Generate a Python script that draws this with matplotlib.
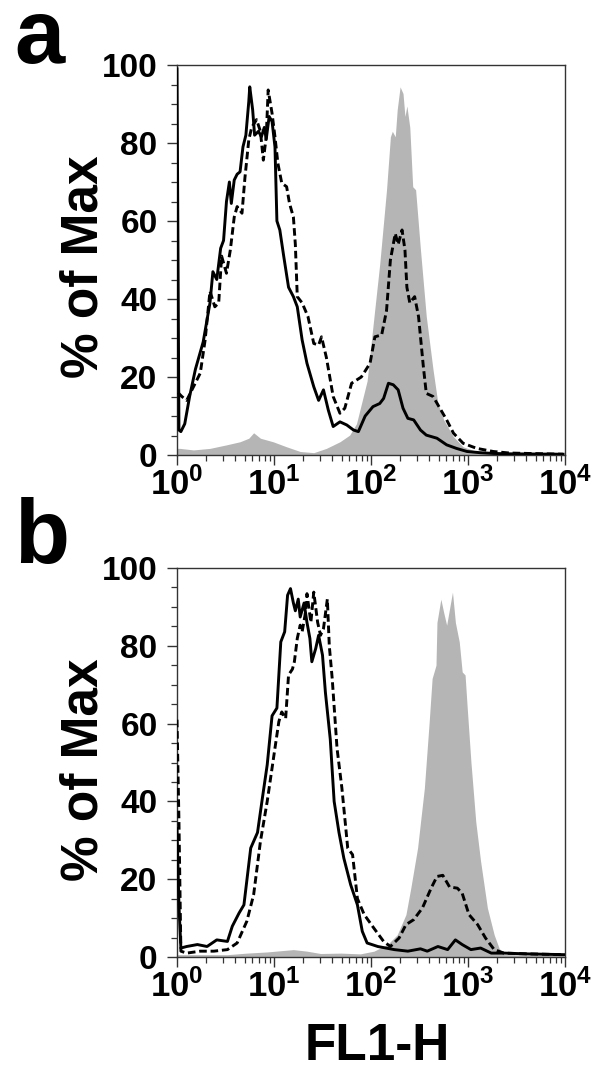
import numpy as np
import matplotlib
matplotlib.use("Agg")
import matplotlib.pyplot as plt
from matplotlib.ticker import FixedLocator, NullFormatter

plt.rcParams["font.family"] = ["Liberation Sans", "DejaVu Sans"]
plt.rcParams["font.weight"] = "bold"
plt.rcParams["mathtext.fontset"] = "custom"
plt.rcParams["mathtext.rm"] = "Liberation Sans:bold"
plt.rcParams["mathtext.bf"] = "Liberation Sans:bold"
plt.rcParams["mathtext.default"] = "bf"

# x positions are in decades (log10 of FL1-H), y in % of max
a_solid_dec = [0.00, 0.02, 0.04, 0.08, 0.13, 0.19, 0.27, 0.34, 0.37, 0.41,
               0.45, 0.48, 0.51, 0.54, 0.56, 0.59, 0.62, 0.65, 0.68, 0.71,
               0.74, 0.75, 0.78, 0.80, 0.84, 0.87, 0.90, 0.92, 0.95, 0.98,
               1.01, 1.03, 1.06, 1.10, 1.15, 1.20, 1.24, 1.29, 1.34, 1.41,
               1.46, 1.51, 1.56, 1.61, 1.68, 1.75, 1.82, 1.87, 1.94, 2.02,
               2.09, 2.13, 2.18, 2.23, 2.28, 2.33, 2.38, 2.44, 2.51, 2.57,
               2.68, 2.78, 2.88, 2.99, 3.12, 3.26, 3.43, 3.98]
a_solid_pct = [99, 6.4, 6, 8, 15, 22, 29, 39, 47, 45,
               53, 55, 65, 70, 64.5, 70.5, 72, 72.6, 79, 82,
               90.6, 94.4, 88.5, 82, 83, 81.6, 84, 81, 86.8, 85.5,
               79, 60, 57.7, 51, 43, 40.6, 38, 29.5, 23.5, 17.5,
               14, 16.7, 11.5, 7.3, 8.5, 7.7, 6.4, 6, 10, 12.4,
               13.2, 14.5, 18.4, 18, 16.7, 12, 9.4, 9, 6.4, 5.1,
               4.3, 2.6, 1.7, 0.9, 0.6, 0.4, 0.3, 0.2]

a_dash_dec = [0.01, 0.05, 0.10, 0.17, 0.24, 0.29, 0.34, 0.39, 0.43, 0.46, 0.51,
              0.55, 0.59, 0.62, 0.67, 0.70, 0.74, 0.77, 0.82, 0.86, 0.89,
              0.92, 0.94, 0.98, 1.01, 1.04, 1.08, 1.13, 1.16, 1.20, 1.22,
              1.24, 1.29, 1.35, 1.41, 1.46, 1.49, 1.54, 1.61, 1.68, 1.73,
              1.80, 1.90, 1.99, 2.04, 2.11, 2.16, 2.20, 2.25, 2.28, 2.32,
              2.35, 2.37, 2.40, 2.45, 2.49, 2.54, 2.57, 2.64, 2.71, 2.78,
              2.85, 2.95, 3.09, 3.26, 3.43, 3.98]
a_dash_pct = [16, 15, 14, 17.5, 21, 29.5, 42, 38, 39, 51, 46.6,
              52.6, 61, 63.7, 62, 71, 80.8, 84, 86, 83, 75.6,
              81.6, 93.6, 87.6, 81.6, 74.8, 69.7, 68.8, 64.5, 61, 54,
              40.6, 39, 35.5, 28.6, 28.2, 30.3, 25, 15, 10.7, 12,
              18.4, 20, 23.5, 30.3, 30.8, 37, 50, 56.8, 54, 57.7,
              52.6, 43, 39, 40.6, 35.5, 22.6, 15.8, 15, 12, 9,
              5.6, 3, 1.7, 0.9, 0.5, 0.2]

a_fill_dec = [0.00, 0.03, 0.17, 0.34, 0.51, 0.65, 0.74, 0.79, 0.86, 0.99, 1.13,
              1.27, 1.41, 1.54, 1.68, 1.78, 1.85, 1.90, 1.96, 2.02, 2.09,
              2.16, 2.20, 2.22, 2.25, 2.27, 2.30, 2.33, 2.35, 2.37, 2.40,
              2.43, 2.46, 2.51, 2.57, 2.64, 2.69, 2.75, 2.85, 2.95, 3.09,
              3.26, 3.98]
a_fill_pct = [1.7, 1.7, 1.3, 1.7, 2.6, 3.4, 4.3, 5.7, 4.3, 3.4, 2.1,
              0.9, 0.6, 1.7, 3.4, 5.1, 8, 13, 19, 33, 49,
              68, 81.6, 83, 81.6, 88.5, 94.4, 92.7, 86.8, 89.5, 84,
              68.8, 68, 52.6, 35.5, 21.8, 13.2, 9, 4.7, 2.1, 0.9,
              0.4, 0.2]

b_solid_dec = [0.00, 0.02, 0.04, 0.10, 0.21, 0.31, 0.41, 0.52, 0.57, 0.64,
               0.69, 0.76, 0.83, 0.88, 0.93, 0.98, 1.03, 1.07, 1.11, 1.14,
               1.17, 1.20, 1.22, 1.25, 1.27, 1.31, 1.34, 1.37, 1.39, 1.43,
               1.46, 1.50, 1.53, 1.58, 1.62, 1.67, 1.72, 1.79, 1.86, 1.91,
               1.96, 2.07, 2.24, 2.38, 2.51, 2.58, 2.69, 2.79, 2.87, 2.94,
               3.03, 3.13, 3.24, 3.37, 3.61, 3.99]
b_solid_pct = [33, 13.4, 2.3, 2.7, 3.2, 2.7, 4.4, 4, 7.9, 11.3,
               13.4, 28, 32, 40.8, 49.4, 62, 64, 81, 83.6, 93,
               94.7, 91, 89, 92, 87.4, 91, 86, 81.9, 75.9, 79.3,
               82.7, 77.6, 68, 56, 40, 32, 25.4, 18.6, 13.4, 6.6,
               3.6, 2.7, 1.9, 1.5, 2.1, 1.5, 2.7, 1.9, 4.4, 3.2,
               1.9, 2.3, 1.0, 1.0, 0.8, 0.6]

b_dash_dec = [0.00, 0.02, 0.04, 0.10, 0.24, 0.38, 0.52, 0.62, 0.72, 0.79,
              0.86, 0.93, 1.00, 1.05, 1.08, 1.12, 1.15, 1.19, 1.21, 1.24,
              1.27, 1.29, 1.32, 1.34, 1.38, 1.41, 1.45, 1.48, 1.51, 1.55,
              1.57, 1.60, 1.65, 1.70, 1.76, 1.81, 1.86, 1.93, 2.03, 2.13,
              2.20, 2.29, 2.36, 2.44, 2.53, 2.62, 2.68, 2.74, 2.81, 2.89,
              2.94, 3.01, 3.10, 3.18, 3.27, 3.37, 3.61, 3.99]
b_dash_pct = [61, 35, 1.5, 1.0, 1.5, 1.5, 1.9, 3.6, 9.2, 16,
              29.7, 40, 52, 60.5, 63, 61.3, 72.5, 74, 75.9, 81.9,
              85.3, 83.6, 87.9, 93.4, 86, 93.8, 86, 82.7, 84.4, 92,
              80, 71.6, 53.6, 43.4, 28, 26.3, 15, 10.9, 7.4, 4,
              2.7, 4.9, 8.3, 9.6, 12.6, 17.7, 20.7, 21, 18, 17.7,
              16.4, 10.9, 8.3, 4.9, 1.9, 1.0, 0.8, 0.6]

b_fill_dec = [0.00, 0.03, 0.52, 0.72, 0.93, 1.20, 1.34, 1.48, 1.69, 1.89, 2.03,
              2.17, 2.27, 2.36, 2.41, 2.48, 2.55, 2.60, 2.63, 2.67, 2.68,
              2.72, 2.75, 2.78, 2.82, 2.84, 2.87, 2.91, 2.94, 2.97, 2.99,
              3.03, 3.08, 3.13, 3.20, 3.27, 3.32, 3.37, 3.99]
b_fill_pct = [0.6, 0.6, 0.6, 1.0, 1.3, 1.9, 1.5, 0.9, 1.0, 0.8, 1.5,
              3.2, 5.7, 10.9, 17.7, 28, 43.4, 60.5, 71.6, 75, 86,
              92, 88.5, 85.3, 91, 93.8, 86, 81, 73.3, 72.5, 64.8,
              50.2, 34.8, 24.6, 12.6, 5.7, 2.3, 0.6, 0.4]

panel_labels = ["a", "b"]
x_tick_labels = ["$10^{0}$", "$10^{1}$", "$10^{2}$", "$10^{3}$", "$10^{4}$"]
y_ticks = [0, 20, 40, 60, 80, 100]

W, H = 604, 1078
fig = plt.figure(figsize=(W / 100, H / 100), dpi=100)

panels = [
    (a_fill_dec, a_fill_pct, a_solid_dec, a_solid_pct, a_dash_dec, a_dash_pct, 65, 455, 63),
    (b_fill_dec, b_fill_pct, b_solid_dec, b_solid_pct, b_dash_dec, b_dash_pct, 568, 957, 563),
]

left_px, right_px = 177, 565
for i, (fx, fy, sx, sy, dx, dy, top_px, bot_px, letter_base) in enumerate(panels):
    ax = fig.add_axes([left_px / W, 1 - bot_px / H, (right_px - left_px) / W, (bot_px - top_px) / H])
    ax.set_xscale("log")
    ax.fill_between(10 ** np.array(fx), 0, fy, color="#b5b5b5", lw=0, zorder=1)
    ax.plot(10 ** np.array(sx), sy, color="black", lw=2.1, zorder=3)
    ax.plot(10 ** np.array(dx), dy, color="black", lw=2.1, dashes=(2.6, 1.3), zorder=3)
    ax.set_xlim(1, 1e4)
    ax.set_ylim(0, 100)

    ax.xaxis.set_major_locator(FixedLocator([1, 10, 100, 1000, 10000]))
    ax.xaxis.set_minor_locator(FixedLocator([m * 10 ** d for d in range(4) for m in range(2, 10)]))
    ax.set_xticklabels(x_tick_labels)
    ax.xaxis.set_minor_formatter(NullFormatter())
    ax.set_yticks(y_ticks)
    ax.set_yticks(np.arange(0, 101, 5), minor=True)
    ax.tick_params(axis="x", which="major", direction="out", length=7, width=1.0,
                   labelsize=25, pad=2, color="#333333")
    ax.tick_params(axis="y", which="major", direction="out", length=7, width=1.0,
                   labelsize=24, pad=7, color="#333333")
    ax.tick_params(which="minor", direction="out", length=4, width=0.9, color="#333333")
    for lab in ax.get_yticklabels():
        lab.set_fontweight("bold")
    for sp in ax.spines.values():
        sp.set_color("#333333")
        sp.set_linewidth(1.0)

    fig.text(84 / W, 1 - ((top_px + bot_px) / 2 + 7) / H, "% of Max", rotation=90,
             ha="center", va="center", fontsize=37, fontweight="bold")
    fig.text(14 / W, 1 - letter_base / H, panel_labels[i], ha="left", va="baseline",
             fontsize=65, fontweight="bold")

fig.text(377 / W, 1 - 1047 / H, "FL1-H", ha="center", va="center", fontsize=37, fontweight="bold")

fig.savefig("out.png", dpi=100)
